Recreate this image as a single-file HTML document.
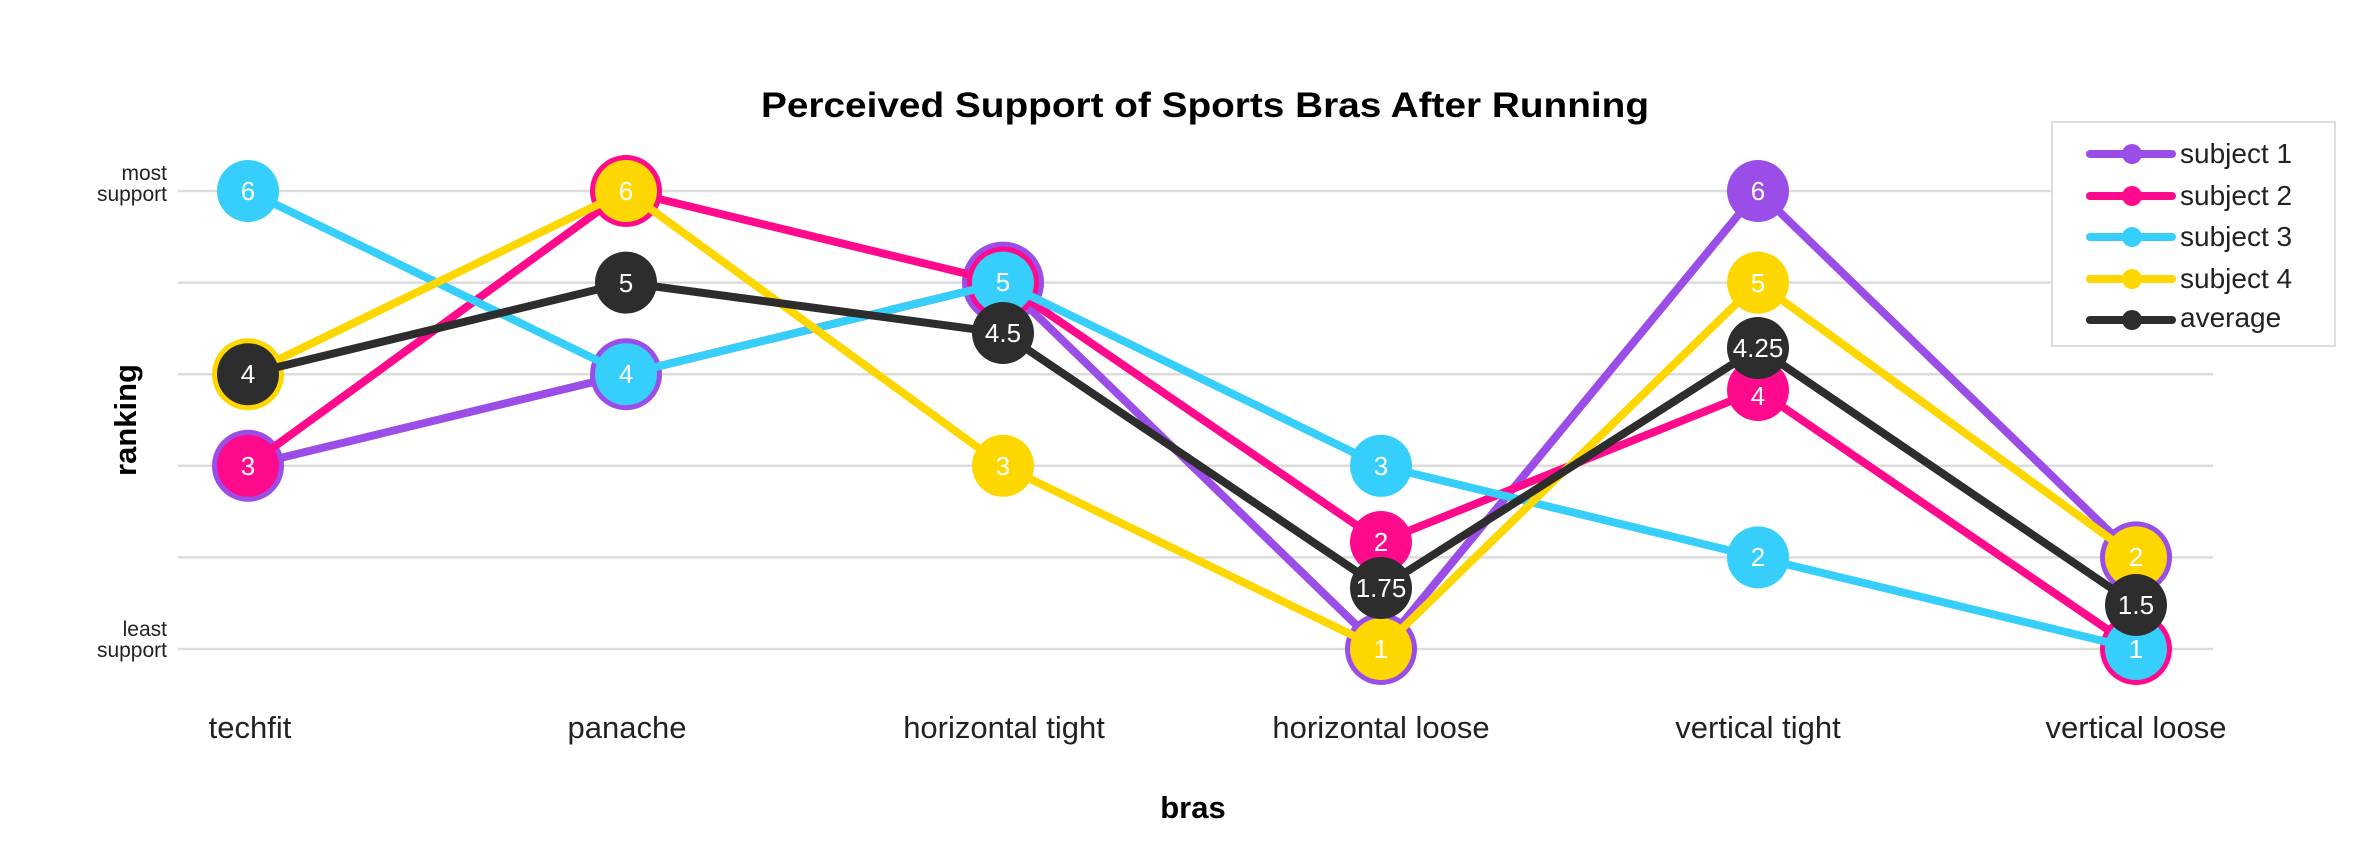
<!DOCTYPE html>
<html><head><meta charset="utf-8"><style>html,body{margin:0;padding:0;background:#fff}svg{display:block}</style></head>
<body>
<svg width="2372" height="859" viewBox="0 0 2372 859" xmlns="http://www.w3.org/2000/svg" font-family="Liberation Sans, sans-serif">
<rect width="2372" height="859" fill="#fff"/>
<g stroke="#dcdcdc" stroke-width="2.5">
<line x1="178" x2="2213" y1="191" y2="191"/>
<line x1="178" x2="2213" y1="282.6" y2="282.6"/>
<line x1="178" x2="2213" y1="374.2" y2="374.2"/>
<line x1="178" x2="2213" y1="465.8" y2="465.8"/>
<line x1="178" x2="2213" y1="557.4" y2="557.4"/>
<line x1="178" x2="2213" y1="649" y2="649"/>
</g>
<text x="1205" y="117" text-anchor="middle" font-weight="bold" font-size="35" textLength="888" lengthAdjust="spacingAndGlyphs">Perceived Support of Sports Bras After Running</text>
<g font-size="21" text-anchor="end" fill="#222">
<text x="167" y="180">most</text><text x="167" y="201">support</text>
<text x="167" y="636">least</text><text x="167" y="657">support</text>
</g>
<text transform="translate(136,420) rotate(-90)" text-anchor="middle" font-weight="bold" font-size="31">ranking</text>
<text x="1193" y="818" text-anchor="middle" font-weight="bold" font-size="31">bras</text>
<g font-size="31" text-anchor="middle" fill="#222">
<text x="250" y="738">techfit</text><text x="627" y="738">panache</text><text x="1004" y="738">horizontal tight</text>
<text x="1381" y="738">horizontal loose</text><text x="1758" y="738">vertical tight</text><text x="2136" y="738">vertical loose</text>
</g>
<polyline fill="none" stroke-width="8" stroke-linejoin="round" stroke="#9b4de8" points="248,465.8 626,374.2 1003,282.6 1381,649 1758,191 2136,557.4"/>
<g font-size="26" fill="#fff" text-anchor="middle">
<circle cx="248" cy="465.8" r="36" fill="#9b4de8"/><circle cx="626" cy="374.2" r="36" fill="#9b4de8"/><circle cx="1003" cy="282.6" r="41" fill="#9b4de8"/><circle cx="1381" cy="649" r="36" fill="#9b4de8"/><circle cx="1758" cy="191" r="31" fill="#9b4de8"/><circle cx="2136" cy="557.4" r="36" fill="#9b4de8"/>
<text x="1758" y="200">6</text>
</g>
<polyline fill="none" stroke-width="8" stroke-linejoin="round" stroke="#ff0a8c" points="248,465.8 626,191 1003,282.6 1381,542 1758,390 2136,649"/>
<g font-size="26" fill="#fff" text-anchor="middle">
<circle cx="248" cy="465.8" r="31" fill="#ff0a8c"/><circle cx="626" cy="191" r="36" fill="#ff0a8c"/><circle cx="1003" cy="282.6" r="36" fill="#ff0a8c"/><circle cx="1381" cy="542" r="31" fill="#ff0a8c"/><circle cx="1758" cy="390" r="31" fill="#ff0a8c"/><circle cx="2136" cy="649" r="36" fill="#ff0a8c"/>
<text x="248" y="475">3</text><text x="1381" y="551">2</text><text x="1758" y="405">4</text>
</g>
<polyline fill="none" stroke-width="8" stroke-linejoin="round" stroke="#36cffb" points="248,191 626,374.2 1003,282.6 1381,465.8 1758,557.4 2136,649"/>
<g font-size="26" fill="#fff" text-anchor="middle">
<circle cx="248" cy="191" r="31" fill="#36cffb"/><circle cx="626" cy="374.2" r="31" fill="#36cffb"/><circle cx="1003" cy="282.6" r="31" fill="#36cffb"/><circle cx="1381" cy="465.8" r="31" fill="#36cffb"/><circle cx="1758" cy="557.4" r="31" fill="#36cffb"/><circle cx="2136" cy="649" r="31" fill="#36cffb"/>
<text x="248" y="200">6</text><text x="626" y="383">4</text><text x="1003" y="291">5</text><text x="1381" y="475">3</text><text x="1758" y="566">2</text><text x="2136" y="658">1</text>
</g>
<polyline fill="none" stroke-width="8" stroke-linejoin="round" stroke="#ffd700" points="248,374.2 626,191 1003,465.8 1381,649 1758,282.6 2136,557.4"/>
<g font-size="26" fill="#fff" text-anchor="middle">
<circle cx="248" cy="374.2" r="36" fill="#ffd700"/><circle cx="626" cy="191" r="31" fill="#ffd700"/><circle cx="1003" cy="465.8" r="31" fill="#ffd700"/><circle cx="1381" cy="649" r="31" fill="#ffd700"/><circle cx="1758" cy="282.6" r="31" fill="#ffd700"/><circle cx="2136" cy="557.4" r="31" fill="#ffd700"/>
<text x="626" y="200">6</text><text x="1003" y="475">3</text><text x="1381" y="658">1</text><text x="1758" y="292">5</text><text x="2136" y="566">2</text>
</g>
<polyline fill="none" stroke-width="8" stroke-linejoin="round" stroke="#2d2d2d" points="248,374.2 626,282.6 1003,333 1381,588 1758,348 2136,605"/>
<g font-size="26" fill="#fff" text-anchor="middle">
<circle cx="248" cy="374.2" r="31" fill="#2d2d2d"/><circle cx="626" cy="282.6" r="31" fill="#2d2d2d"/><circle cx="1003" cy="333" r="31" fill="#2d2d2d"/><circle cx="1381" cy="588" r="31" fill="#2d2d2d"/><circle cx="1758" cy="348" r="31" fill="#2d2d2d"/><circle cx="2136" cy="605" r="31" fill="#2d2d2d"/>
<text x="248" y="383">4</text><text x="626" y="292">5</text><text x="1003" y="342">4.5</text><text x="1381" y="597">1.75</text><text x="1758" y="357">4.25</text><text x="2136" y="614">1.5</text>
</g>
<rect x="2052" y="122" width="283" height="224" fill="#fff" stroke="#ddd" stroke-width="2"/>
<g stroke-width="8" stroke-linecap="round">
<line x1="2090" x2="2172" y1="154" y2="154" stroke="#9b4de8"/><circle cx="2132" cy="154" r="10" fill="#9b4de8"/>
<line x1="2090" x2="2172" y1="196" y2="196" stroke="#ff0a8c"/><circle cx="2132" cy="196" r="10" fill="#ff0a8c"/>
<line x1="2090" x2="2172" y1="237" y2="237" stroke="#36cffb"/><circle cx="2132" cy="237" r="10" fill="#36cffb"/>
<line x1="2090" x2="2172" y1="279" y2="279" stroke="#ffd700"/><circle cx="2132" cy="279" r="10" fill="#ffd700"/>
<line x1="2090" x2="2172" y1="320" y2="320" stroke="#2d2d2d"/><circle cx="2132" cy="320" r="10" fill="#2d2d2d"/>
</g>
<g font-size="28" fill="#222">
<text x="2180" y="163">subject 1</text><text x="2180" y="205">subject 2</text><text x="2180" y="246">subject 3</text><text x="2180" y="288">subject 4</text><text x="2180" y="327">average</text>
</g>
</svg>
</body></html>
